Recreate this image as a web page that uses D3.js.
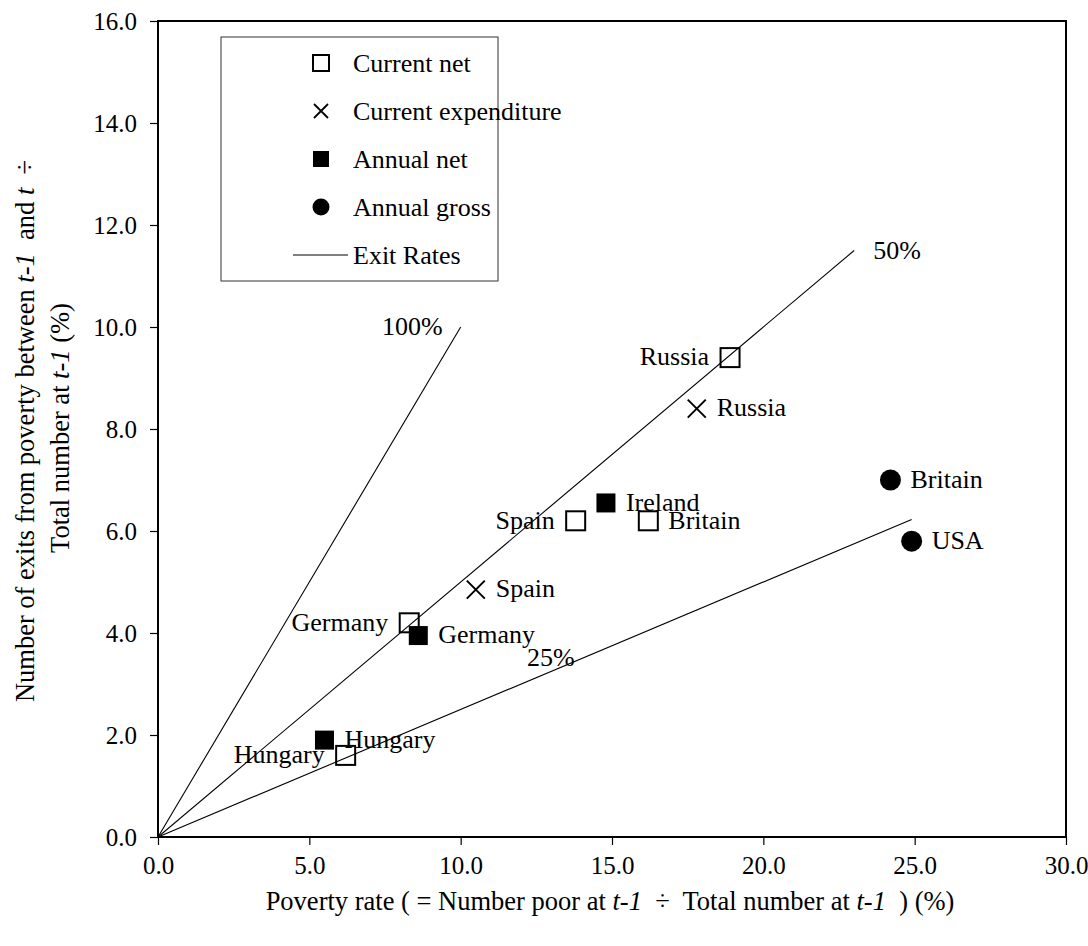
<!DOCTYPE html>
<html>
<head>
<meta charset="utf-8">
<script src="https://cdn.jsdelivr.net/npm/d3@7"></script>
<style>
  html, body { margin: 0; padding: 0; background: #fff; }
  svg { display: block; }
  text { font-family: "Liberation Serif", "Times New Roman", serif; fill: #000; white-space: pre; }
</style>
</head>
<body>
<svg id="chart" width="1088" height="946"></svg>
<script>
// Poverty rate (x, %) vs exits from poverty (y, %)
const currentNet = [
  { country: "Russia",  x: 18.9, y: 9.4 },
  { country: "Spain",   x: 13.8, y: 6.2 },
  { country: "Britain", x: 16.2, y: 6.2 },
  { country: "Germany", x: 8.3,  y: 4.2 },
  { country: "Hungary", x: 6.2,  y: 1.6 }
];
const currentExpenditure = [
  { country: "Russia", x: 17.8, y: 8.4 },
  { country: "Spain",  x: 10.5, y: 4.85 }
];
const annualNet = [
  { country: "Ireland", x: 14.8, y: 6.55 },
  { country: "Germany", x: 8.6,  y: 3.95 },
  { country: "Hungary", x: 5.5,  y: 1.9 }
];
const annualGross = [
  { country: "Britain", x: 24.2, y: 7.0 },
  { country: "USA",     x: 24.9, y: 5.8 }
];

// Exit-rate reference lines: y = rate * x, drawn from the origin to xEnd
const exitRates = [1.0, 0.5, 0.25];
const exitRateEnds = [10, 23, 24.9];
const exitRateLabels = ["100%", "50%", "25%"];

const xTicks = [0, 5, 10, 15, 20, 25, 30];
const yTicks = [0, 2, 4, 6, 8, 10, 12, 14, 16];

const legendLabels = ["Current net", "Current expenditure", "Annual net", "Annual gross", "Exit Rates"];

// ---- layout ----
const svg = d3.select("#chart");
const plot = { left: 158, right: 1066, top: 21, bottom: 837 };
const FONT = 26;

const x = d3.scaleLinear().domain([0, 30]).range([plot.left, plot.right]);
const y = d3.scaleLinear().domain([0, 16]).range([plot.bottom, plot.top]);

// exit rate lines
const rateG = svg.append("g");
exitRates.forEach((r, i) => {
  rateG.append("line")
    .attr("x1", x(0)).attr("y1", y(0))
    .attr("x2", x(exitRateEnds[i])).attr("y2", y(r * exitRateEnds[i]))
    .attr("stroke", "#000").attr("stroke-width", 1.1);
});
// rate labels
const rateLabelPlace = [
  { px: x(exitRateEnds[0]) - 18, py: y(exitRates[0] * exitRateEnds[0]) + 8, anchor: "end" },
  { px: x(exitRateEnds[1]) + 19, py: y(exitRates[1] * exitRateEnds[1]) + 8, anchor: "start" },
  { px: x(12.19), py: y(3.35), anchor: "start" }
];
exitRateLabels.forEach((t, i) => {
  rateG.append("text")
    .attr("x", rateLabelPlace[i].px).attr("y", rateLabelPlace[i].py)
    .attr("text-anchor", rateLabelPlace[i].anchor)
    .attr("font-size", FONT).text(t);
});

// axes
const xAxis = d3.axisBottom(x).tickValues(xTicks).tickFormat(d3.format(".1f"))
  .tickSizeInner(8).tickSizeOuter(0).tickPadding(11);
const yAxis = d3.axisLeft(y).tickValues(yTicks).tickFormat(d3.format(".1f"))
  .tickSizeInner(8).tickSizeOuter(0).tickPadding(13);

const gx = svg.append("g").attr("transform", `translate(0,${plot.bottom})`).call(xAxis);
const gy = svg.append("g").attr("transform", `translate(${plot.left},0)`).call(yAxis);
[gx, gy].forEach(g => {
  g.selectAll("text").attr("font-size", 25).attr("font-family", "Liberation Serif, Times New Roman, serif").attr("fill", "#000");
  g.selectAll("line").attr("stroke", "#000").attr("stroke-width", 1.2);
  g.select(".domain").remove();
});

// plot frame
svg.append("rect")
  .attr("x", plot.left).attr("y", plot.top)
  .attr("width", plot.right - plot.left).attr("height", plot.bottom - plot.top)
  .attr("fill", "none").attr("stroke", "#000").attr("stroke-width", 2);

// ---- markers ----
const S = 19;
function openSquare(g, px, py) {
  g.append("rect").attr("x", px - S / 2).attr("y", py - S / 2).attr("width", S).attr("height", S)
    .attr("fill", "none").attr("stroke", "#000").attr("stroke-width", 2);
}
function filledSquare(g, px, py) {
  g.append("rect").attr("x", px - S / 2).attr("y", py - S / 2).attr("width", S).attr("height", S)
    .attr("fill", "#000");
}
function cross(g, px, py) {
  const h = 9;
  g.append("path").attr("d", `M${px - h},${py - h}L${px + h},${py + h}M${px - h},${py + h}L${px + h},${py - h}`)
    .attr("stroke", "#000").attr("stroke-width", 2).attr("fill", "none");
}
function dot(g, px, py) {
  g.append("circle").attr("cx", px).attr("cy", py).attr("r", 10.5).attr("fill", "#000");
}

// which side each point label sits on
const labelSide = {
  "currentNet:Russia": "left", "currentNet:Spain": "left", "currentNet:Britain": "right",
  "currentNet:Germany": "left", "currentNet:Hungary": "left",
  "currentExpenditure:Russia": "right", "currentExpenditure:Spain": "right",
  "annualNet:Ireland": "right", "annualNet:Germany": "right", "annualNet:Hungary": "right",
  "annualGross:Britain": "right", "annualGross:USA": "right"
};

const seriesList = [
  { key: "currentNet", data: currentNet, draw: openSquare },
  { key: "currentExpenditure", data: currentExpenditure, draw: cross },
  { key: "annualNet", data: annualNet, draw: filledSquare },
  { key: "annualGross", data: annualGross, draw: dot }
];

const markG = svg.append("g");
const labelG = svg.append("g");
seriesList.forEach(s => {
  s.data.forEach(d => {
    const px = x(d.x), py = y(d.y);
    s.draw(markG, px, py);
    const side = labelSide[s.key + ":" + d.country];
    labelG.append("text")
      .attr("x", side === "left" ? px - 21 : px + 20)
      .attr("y", py)
      .attr("dy", "0.3em")
      .attr("text-anchor", side === "left" ? "end" : "start")
      .attr("font-size", FONT)
      .text(d.country);
  });
});

// ---- legend ----
const lg = svg.append("g");
lg.append("rect").attr("x", 221).attr("y", 37).attr("width", 277).attr("height", 244)
  .attr("fill", "#fff").attr("stroke", "#333").attr("stroke-width", 1);
const legendDraw = [
  (g, px, py) => { g.append("rect").attr("x", px - 8).attr("y", py - 8).attr("width", 16).attr("height", 16)
      .attr("fill", "none").attr("stroke", "#000").attr("stroke-width", 2); },
  (g, px, py) => { const h = 7; g.append("path").attr("d", `M${px - h},${py - h}L${px + h},${py + h}M${px - h},${py + h}L${px + h},${py - h}`)
      .attr("stroke", "#000").attr("stroke-width", 1.8); },
  (g, px, py) => { g.append("rect").attr("x", px - 8).attr("y", py - 8).attr("width", 16).attr("height", 16).attr("fill", "#000"); },
  (g, px, py) => { g.append("circle").attr("cx", px).attr("cy", py).attr("r", 8.5).attr("fill", "#000"); },
  (g, px, py) => { g.append("line").attr("x1", 293).attr("x2", 348).attr("y1", py).attr("y2", py)
      .attr("stroke", "#000").attr("stroke-width", 1); }
];
legendLabels.forEach((t, i) => {
  const cy = 63 + i * 48;
  legendDraw[i](lg, 321, cy);
  lg.append("text").attr("x", 353).attr("y", cy).attr("dy", "0.33em").attr("font-size", FONT).text(t);
});

// ---- axis titles ----
const xt = svg.append("text").attr("x", 610).attr("y", 910).attr("text-anchor", "middle").attr("font-size", 26.5);
xt.append("tspan").text("Poverty rate ( = Number poor at ");
xt.append("tspan").attr("font-style", "italic").text("t-1");
xt.append("tspan").text("  \u00F7  Total number at ");
xt.append("tspan").attr("font-style", "italic").text("t-1");
xt.append("tspan").text("  ) (%)");

const yt1 = svg.append("text").attr("transform", "translate(34,431) rotate(-90)").attr("text-anchor", "middle").attr("font-size", 26.5);
yt1.append("tspan").text("Number of exits from poverty between ");
yt1.append("tspan").attr("font-style", "italic").text("t-1");
yt1.append("tspan").text("  and ");
yt1.append("tspan").attr("font-style", "italic").text("t");
yt1.append("tspan").text("  \u00F7");

const yt2 = svg.append("text").attr("transform", "translate(69,428) rotate(-90)").attr("text-anchor", "middle").attr("font-size", 26.5);
yt2.append("tspan").text("Total number at ");
yt2.append("tspan").attr("font-style", "italic").text("t-1");
yt2.append("tspan").text(" (%)");
</script>
</body>
</html>
